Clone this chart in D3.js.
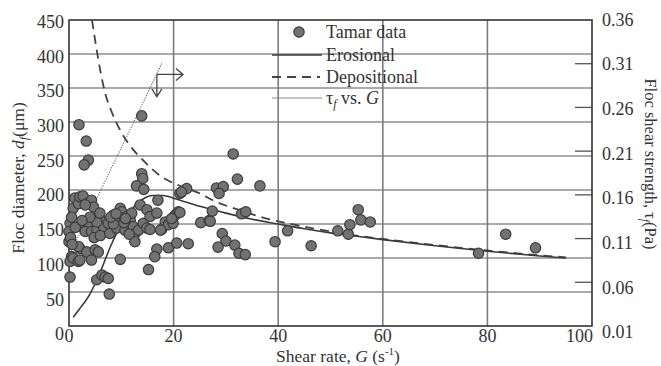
<!DOCTYPE html>
<html>
<head>
<meta charset="utf-8">
<script src="https://cdn.jsdelivr.net/npm/d3@7/dist/d3.min.js"></script>
<style>
  body { margin: 0; background: #fff; }
  svg text { font-family: "Liberation Serif", "Times New Roman", serif; fill: #333; }
</style>
</head>
<body>
<svg id="chart" width="661" height="366"></svg>
<script>
// Tamar floc data: shear rate G (1/s) and floc diameter (um)
const tamarG = [0.2, 0.0, 0.0, 0.3, 0.5, 0.2, 0.2, 0.8, 0.8, 0.5, 1.1, 1.8, 2.1, 2.7, 3.4, 4.3, 4.7, 3.1,
  1.9, 3.3, 3.7, 2.9, 2.1, 3.7, 3.1, 4.3, 5.3, 5.9, 6.6, 5.3, 5.9, 2.1, 3.4, 5.0, 1.8, 1.8, 4.3, 2.1,
  5.6, 5.3, 6.3, 6.9, 7.5, 7.7, 1.2, 0.6, 4.0, 2.5, 4.8, 6.0,
  7.5, 7.8, 8.5, 9.1, 9.4, 9.8, 10.1, 10.7, 11.0, 11.7, 12.0, 12.0, 9.8, 12.3, 12.6, 13.3, 14.2, 14.9,
  12.6, 13.6, 14.9, 15.5, 13.9, 13.9, 14.1, 12.9, 14.3, 15.5, 15.2, 16.8, 16.4, 17.0, 16.8, 17.7, 8.5,
  10.5, 11.5, 8.0, 9.0, 10.8,
  18.4, 19.0, 19.9, 20.3, 20.9, 21.2, 19.6, 17.5, 19.0, 20.6, 22.8, 21.2, 22.5, 21.5, 25.2, 26.8,
  27.4, 28.2, 29.5, 28.7, 31.4, 32.2, 36.5, 27.0, 33.0, 33.8, 29.3, 30.0, 28.5, 31.7, 32.5, 33.7,
  41.8, 39.4, 46.3, 51.4, 53.4, 53.7, 55.3, 55.8, 57.6, 78.3, 83.5, 89.2];
const tamarD = [151, 139, 124, 130, 102, 95, 72, 100, 173, 160, 188, 180, 190, 191, 180, 185, 175, 178,
  296, 272, 244, 237, 147, 151, 139, 139, 141, 158, 146, 153, 166, 114, 109, 112, 95, 117, 97, 97,
  109, 68, 75, 72, 70, 47, 145, 120, 160, 155, 130, 133,
  151, 136, 163, 144, 156, 173, 168, 141, 161, 156, 166, 146, 98, 146, 136, 141, 151, 144,
  124, 178, 171, 161, 309, 224, 217, 206, 201, 142, 83, 113, 102, 185, 166, 142, 150,
  152, 135, 160, 165, 158,
  153, 149, 151, 163, 168, 167, 158, 141, 115, 122, 121, 195, 202, 197, 152, 155,
  169, 203, 205, 195, 253, 216, 206, 154, 165, 168, 136, 125, 116, 119, 107, 105,
  140, 124, 118, 140, 135, 149, 171, 156, 153, 107, 135, 115];

// model curves
const erosionG = [0.8, 2, 4, 6, 8, 10, 12, 14, 16, 18, 20, 25, 30, 35, 40, 45, 50, 55, 60, 70, 80, 90, 95];
const erosionD = [13, 25, 47, 80, 118, 150, 172, 186, 192, 192, 188, 176, 166, 157, 150, 143, 137, 132, 127, 118, 110, 103, 100];
const depositG = [4.4, 5, 6, 7, 8, 10, 12, 14, 16, 18, 20, 22, 25, 28, 32, 36, 40, 45, 50, 55, 60, 70, 80, 90, 95];
const depositD = [450, 420, 375, 340, 318, 285, 262, 245, 230, 218, 210, 204, 195, 183, 172, 162, 154, 146, 139, 133, 128, 119, 111, 104, 101];
// floc shear strength (Pa) against G, read on the right axis
const tauG = [0, 5, 10, 15, 17.8];
const tauV = [0.09, 0.152, 0.214, 0.276, 0.311];

const xTicks = [0, 20, 40, 60, 80, 100];
const yTicks = [0, 50, 100, 150, 200, 250, 300, 350, 400, 450];
const tauTicks = [0.01, 0.06, 0.11, 0.16, 0.21, 0.26, 0.31, 0.36];
const legendLabels = ["Tamar data", "Erosional", "Depositional", "tau"];

const svg = d3.select("#chart");
const pLeft = 69, pRight = 592, pTop = 20, pBottom = 326;

const x = d3.scaleLinear().domain([0, 100]).range([pLeft, pRight]);
const y = d3.scaleLinear().domain([0, 450]).range([pBottom, pTop]);
const yTau = d3.scaleLinear().domain([0.01, 0.36]).range([pBottom, pTop]);
// tick labels in the original sit on a slightly taller scale
const yLab = d3.scaleLinear().domain([0, 450]).range([334, 21.5]);
const tauLab = d3.scaleLinear().domain([0.01, 0.36]).range([332, 19.5]);

svg.append("rect").attr("width", 661).attr("height", 366).attr("fill", "#fff");

// grid
svg.append("g").selectAll("line")
  .data(yTicks.filter(d => d > 0 && d < 450))
  .enter().append("line")
  .attr("x1", pLeft).attr("x2", pRight)
  .attr("y1", d => y(d)).attr("y2", d => y(d))
  .attr("stroke", "#8e8e8e").attr("stroke-width", 1.6);
svg.append("g").selectAll("line")
  .data(xTicks.filter(d => d > 0 && d < 100))
  .enter().append("line")
  .attr("x1", d => x(d)).attr("x2", d => x(d))
  .attr("y1", pTop).attr("y2", pBottom)
  .attr("stroke", "#7c7c7c").attr("stroke-width", 1.6);

// right axis inward ticks
svg.append("g").selectAll("line")
  .data(tauTicks.filter(d => d > 0.01 && d < 0.36))
  .enter().append("line")
  .attr("x1", pRight - 17).attr("x2", pRight)
  .attr("y1", d => yTau(d)).attr("y2", d => yTau(d))
  .attr("stroke", "#555").attr("stroke-width", 1.3);

// frame
svg.append("rect")
  .attr("x", pLeft).attr("y", pTop).attr("width", pRight - pLeft).attr("height", pBottom - pTop)
  .attr("fill", "none").attr("stroke", "#333").attr("stroke-width", 1.6);

// tick labels
svg.append("g").selectAll("text")
  .data(yTicks).enter().append("text")
  .attr("x", 64).attr("y", d => yLab(d)).attr("dy", "0.35em")
  .attr("text-anchor", "end").attr("font-size", 18)
  .text(d => d);
svg.append("g").selectAll("text")
  .data(xTicks).enter().append("text")
  .attr("x", d => d === 100 ? x(d) + 1 : x(d)).attr("y", 342)
  .attr("text-anchor", d => d === 100 ? "end" : "middle").attr("font-size", 18)
  .text(d => d);
svg.append("g").selectAll("text")
  .data(tauTicks).enter().append("text")
  .attr("x", 602).attr("y", d => tauLab(d)).attr("dy", "0.35em")
  .attr("font-size", 18)
  .text(d => d.toFixed(2));

// axis titles
const xt = svg.append("text").attr("x", 338).attr("y", 362).attr("text-anchor", "middle").attr("font-size", 17.5);
xt.append("tspan").text("Shear rate, ");
xt.append("tspan").attr("font-style", "italic").text("G");
xt.append("tspan").text(" (s");
xt.append("tspan").attr("font-size", 11).attr("dy", -7).text("-1");
xt.append("tspan").attr("dy", 7).text(")");

const yt = svg.append("text").attr("transform", "translate(24,178) rotate(-90)")
  .attr("text-anchor", "middle").attr("font-size", 17.5);
yt.append("tspan").text("Floc diameter, ");
yt.append("tspan").attr("font-style", "italic").text("d");
yt.append("tspan").attr("font-style", "italic").attr("font-size", 12).attr("dy", 4).text("f");
yt.append("tspan").attr("dy", -4).text("(\u03bcm)");

const rt = svg.append("text").attr("transform", "translate(645,164) rotate(90)")
  .attr("text-anchor", "middle").attr("font-size", 16.5);
rt.append("tspan").text("Floc shear strength, \u03c4");
rt.append("tspan").attr("font-style", "italic").attr("font-size", 11.5).attr("dy", 4).text("f");
rt.append("tspan").attr("dy", -4).text("(Pa)");

// curves
const line = d3.line().x(d => x(d[0])).y(d => d[1]).curve(d3.curveMonotoneX);
svg.append("path")
  .datum(tauG.map((g, i) => [g, yTau(tauV[i])]))
  .attr("d", line).attr("fill", "none")
  .attr("stroke", "#666").attr("stroke-width", 1.1).attr("stroke-dasharray", "1.2,1.3");
svg.append("path")
  .datum(depositG.map((g, i) => [g, y(depositD[i])]))
  .attr("d", line).attr("fill", "none")
  .attr("stroke", "#444").attr("stroke-width", 1.8).attr("stroke-dasharray", "9,6");
svg.append("path")
  .datum(erosionG.map((g, i) => [g, y(erosionD[i])]))
  .attr("d", line).attr("fill", "none")
  .attr("stroke", "#3a3a3a").attr("stroke-width", 1.6);

// arrows telling which axis the tau line uses
const ac = [x(16.8), y(370)];
const ar = [x(21.8), y(370)];
const ad = [x(16.8), y(337)];
const arrows = svg.append("g").attr("stroke", "#444").attr("stroke-width", 1.3).attr("fill", "none");
arrows.append("path").attr("d", `M${ac[0]},${ac[1]}H${ar[0]}M${ar[0] - 7},${ar[1] - 6}L${ar[0]},${ar[1]}L${ar[0] - 7},${ar[1] + 6}`);
arrows.append("path").attr("d", `M${ac[0]},${ac[1]}V${ad[1]}M${ad[0] - 5},${ad[1] - 8}L${ad[0]},${ad[1]}L${ad[0] + 5},${ad[1] - 8}`);

// data points
svg.append("g").selectAll("circle")
  .data(tamarG.map((g, i) => [g, tamarD[i]]))
  .enter().append("circle")
  .attr("cx", d => x(d[0])).attr("cy", d => y(d[1])).attr("r", 5.2)
  .attr("fill", "#727272").attr("stroke", "#3c3c3c").attr("stroke-width", 1.2);

// legend
const lg = svg.append("g").attr("font-size", 18);
const rowY = [32, 55, 77, 98];
lg.append("circle").attr("cx", 299).attr("cy", rowY[0]).attr("r", 5.2)
  .attr("fill", "#727272").attr("stroke", "#3c3c3c").attr("stroke-width", 1.2);
lg.append("line").attr("x1", 272).attr("x2", 322).attr("y1", rowY[1]).attr("y2", rowY[1])
  .attr("stroke", "#3a3a3a").attr("stroke-width", 1.6);
lg.append("line").attr("x1", 272).attr("x2", 320).attr("y1", rowY[2]).attr("y2", rowY[2])
  .attr("stroke", "#444").attr("stroke-width", 1.8).attr("stroke-dasharray", "9,6");
lg.append("line").attr("x1", 272).attr("x2", 322).attr("y1", rowY[3]).attr("y2", rowY[3])
  .attr("stroke", "#888").attr("stroke-width", 1.2);
legendLabels.forEach((lab, i) => {
  const t = lg.append("text").attr("x", 326).attr("y", rowY[i]).attr("dy", "0.33em");
  if (lab === "tau") {
    t.append("tspan").text("\u03c4");
    t.append("tspan").attr("font-style", "italic").attr("font-size", 12).attr("dy", 4).text("f");
    t.append("tspan").attr("dy", -4).text(" vs. ");
    t.append("tspan").attr("font-style", "italic").text("G");
  } else {
    t.text(lab);
  }
});
</script>
</body>
</html>
